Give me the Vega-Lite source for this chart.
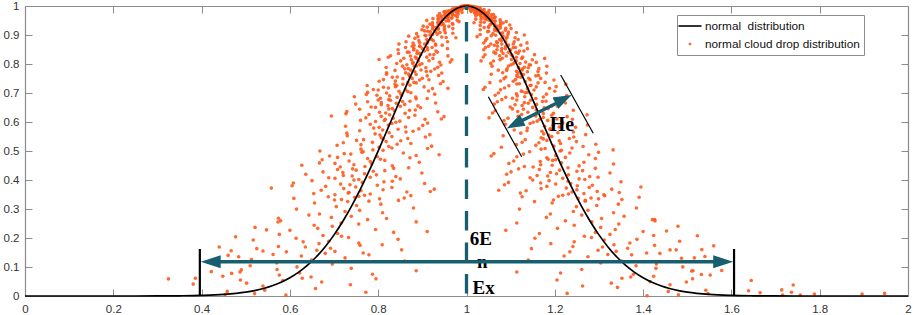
{
  "$schema": "https://vega.github.io/schema/vega-lite/v6.json",
  "width": 883,
  "height": 290,
  "autosize": "none",
  "padding": {"left": 25, "top": 6, "right": 5, "bottom": 19},
  "background": "white",
  "config": {
    "view": {"stroke": null},
    "axis": {"grid": false, "domainColor": "#8c8c8c", "domainWidth": 1.2, "tickColor": "#8c8c8c", "tickSize": -7, "tickWidth": 1, "labelFont": "Liberation Sans", "labelFontSize": 11.5, "labelColor": "#333333", "title": null}
  },
  "datasets": {
    "drops": [
      {"x":0.999,"y":1.0},{"x":1.001,"y":1.0},{"x":0.999,"y":0.9999},{"x":1.002,"y":0.9999},{"x":0.996,"y":0.9998},{"x":1.003,"y":0.9998},{"x":0.996,"y":0.9997},{"x":1.002,"y":0.9997},{"x":0.993,"y":0.9995},{"x":1.004,"y":0.9995},
      {"x":0.989,"y":0.9992},{"x":1.007,"y":0.9992},{"x":0.995,"y":0.9989},{"x":1.009,"y":0.9989},{"x":0.997,"y":0.9986},{"x":1.012,"y":0.9986},{"x":0.99,"y":0.9982},{"x":1.006,"y":0.9982},{"x":0.988,"y":0.9978},{"x":1.016,"y":0.9978},
      {"x":0.989,"y":0.9973},{"x":1.012,"y":0.9973},{"x":0.993,"y":0.9967},{"x":1.017,"y":0.9967},{"x":0.985,"y":0.9961},{"x":1.023,"y":0.9961},{"x":0.987,"y":0.9955},{"x":1.019,"y":0.9955},{"x":0.99,"y":0.9948},{"x":1.018,"y":0.9948},
      {"x":0.975,"y":0.9941},{"x":1.014,"y":0.9941},{"x":0.981,"y":0.9933},{"x":1.022,"y":0.9933},{"x":0.991,"y":0.9925},{"x":1.031,"y":0.9925},{"x":0.98,"y":0.9916},{"x":1.023,"y":0.9916},{"x":0.984,"y":0.9907},{"x":1.029,"y":0.9907},
      {"x":0.968,"y":0.9897},{"x":1.023,"y":0.9897},{"x":0.972,"y":0.9887},{"x":1.017,"y":0.9887},{"x":0.979,"y":0.9876},{"x":1.04,"y":0.9876},{"x":0.989,"y":0.9865},{"x":1.028,"y":0.9865},{"x":0.975,"y":0.9853},{"x":1.035,"y":0.9853},
      {"x":0.967,"y":0.9841},{"x":1.051,"y":0.9841},{"x":0.963,"y":0.9828},{"x":1.022,"y":0.9828},{"x":0.955,"y":0.9815},{"x":1.01,"y":0.9815},{"x":0.981,"y":0.9802},{"x":1.034,"y":0.9802},{"x":0.95,"y":0.9788},{"x":1.039,"y":0.9788},
      {"x":0.966,"y":0.9774},{"x":1.032,"y":0.9774},{"x":0.953,"y":0.9759},{"x":1.019,"y":0.9759},{"x":0.939,"y":0.9743},{"x":1.04,"y":0.9743},{"x":0.953,"y":0.9728},{"x":1.031,"y":0.9728},{"x":0.956,"y":0.9711},{"x":1.025,"y":0.9711},
      {"x":0.968,"y":0.9695},{"x":1.057,"y":0.9695},{"x":0.95,"y":0.9678},{"x":1.042,"y":0.9678},{"x":0.935,"y":0.966},{"x":1.021,"y":0.966},{"x":0.953,"y":0.9642},{"x":1.042,"y":0.9642},{"x":0.942,"y":0.9624},{"x":1.034,"y":0.9624},
      {"x":0.954,"y":0.9605},{"x":1.064,"y":0.9605},{"x":0.967,"y":0.9585},{"x":1.055,"y":0.9585},{"x":0.924,"y":0.9566},{"x":1.041,"y":0.9566},{"x":0.948,"y":0.9546},{"x":1.021,"y":0.9546},{"x":0.936,"y":0.9525},{"x":1.046,"y":0.9525},
      {"x":0.91,"y":0.9504},{"x":1.058,"y":0.9504},{"x":0.96,"y":0.9482},{"x":1.065,"y":0.9482},{"x":0.983,"y":0.9461},{"x":1.077,"y":0.9461},{"x":0.943,"y":0.9438},{"x":1.032,"y":0.9438},{"x":0.936,"y":0.9416},{"x":1.083,"y":0.9416},
      {"x":0.947,"y":0.9393},{"x":1.057,"y":0.9393},{"x":0.969,"y":0.9369},{"x":1.077,"y":0.9369},{"x":0.936,"y":0.9345},{"x":1.098,"y":0.9345},{"x":0.95,"y":0.9321},{"x":1.076,"y":0.9321},{"x":0.96,"y":0.9296},{"x":1.069,"y":0.9296},
      {"x":0.911,"y":0.9271},{"x":1.05,"y":0.9271},{"x":0.936,"y":0.9246},{"x":1.077,"y":0.9246},{"x":0.969,"y":0.922},{"x":1.101,"y":0.922},{"x":0.936,"y":0.9194},{"x":1.072,"y":0.9194},{"x":0.95,"y":0.9168},{"x":1.088,"y":0.9168},
      {"x":0.905,"y":0.9141},{"x":1.07,"y":0.9141},{"x":0.918,"y":0.9114},{"x":1.048,"y":0.9114},{"x":0.94,"y":0.9086},{"x":1.113,"y":0.9086},{"x":0.969,"y":0.9058},{"x":1.077,"y":0.9058},{"x":0.934,"y":0.903},{"x":1.094,"y":0.903},
      {"x":0.917,"y":0.9001},{"x":1.131,"y":0.9001},{"x":0.908,"y":0.8972},{"x":1.056,"y":0.8972},{"x":0.89,"y":0.8943},{"x":1.024,"y":0.8943},{"x":0.954,"y":0.8914},{"x":1.081,"y":0.8914},{"x":0.883,"y":0.8884},{"x":1.09,"y":0.8884},
      {"x":0.921,"y":0.8843},{"x":1.075,"y":0.8843},{"x":0.892,"y":0.8805},{"x":1.043,"y":0.8805},{"x":0.863,"y":0.8767},{"x":1.089,"y":0.8767},{"x":0.894,"y":0.8729},{"x":1.07,"y":0.8729},{"x":0.905,"y":0.869},{"x":1.055,"y":0.869},
      {"x":0.93,"y":0.865},{"x":1.123,"y":0.865},{"x":0.894,"y":0.8611},{"x":1.089,"y":0.8611},{"x":0.862,"y":0.857},{"x":1.043,"y":0.857},{"x":0.9,"y":0.853},{"x":1.088,"y":0.853},{"x":0.88,"y":0.8488},{"x":1.069,"y":0.8488},
      {"x":0.905,"y":0.8447},{"x":1.13,"y":0.8447},{"x":0.934,"y":0.8405},{"x":1.112,"y":0.8405},{"x":0.846,"y":0.8363},{"x":1.083,"y":0.8363},{"x":0.896,"y":0.832},{"x":1.042,"y":0.832},{"x":0.873,"y":0.8277},{"x":1.09,"y":0.8277},
      {"x":0.823,"y":0.8233},{"x":1.113,"y":0.8233},{"x":0.924,"y":0.819},{"x":1.125,"y":0.819},{"x":0.967,"y":0.8146},{"x":1.149,"y":0.8146},{"x":0.891,"y":0.8101},{"x":1.061,"y":0.8101},{"x":0.879,"y":0.8056},{"x":1.158,"y":0.8056},
      {"x":0.899,"y":0.8011},{"x":1.106,"y":0.8011},{"x":0.942,"y":0.7965},{"x":1.145,"y":0.7965},{"x":0.882,"y":0.792},{"x":1.182,"y":0.792},{"x":0.908,"y":0.7873},{"x":1.14,"y":0.7873},{"x":0.928,"y":0.7827},{"x":1.126,"y":0.7827},
      {"x":0.838,"y":0.778},{"x":1.091,"y":0.778},{"x":0.883,"y":0.7733},{"x":1.138,"y":0.7733},{"x":0.944,"y":0.7686},{"x":1.181,"y":0.7686},{"x":0.886,"y":0.7638},{"x":1.129,"y":0.7638},{"x":0.911,"y":0.7591},{"x":1.157,"y":0.7591},
      {"x":0.832,"y":0.7543},{"x":1.123,"y":0.7543},{"x":0.856,"y":0.7495},{"x":1.085,"y":0.7495},{"x":0.894,"y":0.7446},{"x":1.198,"y":0.7446},{"x":0.947,"y":0.7397},{"x":1.133,"y":0.7397},{"x":0.886,"y":0.7349},{"x":1.162,"y":0.7349},
      {"x":0.856,"y":0.7299},{"x":1.225,"y":0.7299},{"x":0.842,"y":0.725},{"x":1.096,"y":0.725},{"x":0.812,"y":0.72},{"x":1.042,"y":0.72},{"x":0.923,"y":0.7151},{"x":1.138,"y":0.7151},{"x":0.8,"y":0.7101},{"x":1.153,"y":0.7101},
      {"x":0.867,"y":0.7051},{"x":1.126,"y":0.7051},{"x":0.819,"y":0.7},{"x":1.072,"y":0.7},{"x":0.773,"y":0.695},{"x":1.147,"y":0.695},{"x":0.826,"y":0.69},{"x":1.115,"y":0.69},{"x":0.843,"y":0.685},{"x":1.089,"y":0.685},
      {"x":0.886,"y":0.6798},{"x":1.2,"y":0.6798},{"x":0.828,"y":0.6748},{"x":1.145,"y":0.6748},{"x":0.776,"y":0.6697},{"x":1.07,"y":0.6697},{"x":0.841,"y":0.6646},{"x":1.14,"y":0.6646},{"x":0.807,"y":0.6595},{"x":1.11,"y":0.6595},
      {"x":0.85,"y":0.6543},{"x":1.206,"y":0.6543},{"x":0.896,"y":0.6492},{"x":1.176,"y":0.6492},{"x":0.758,"y":0.6441},{"x":1.129,"y":0.6441},{"x":0.837,"y":0.639},{"x":1.065,"y":0.639},{"x":0.803,"y":0.6338},{"x":1.139,"y":0.6338},
      {"x":0.727,"y":0.6287},{"x":1.174,"y":0.6287},{"x":0.883,"y":0.6235},{"x":1.193,"y":0.6235},{"x":0.949,"y":0.6184},{"x":1.228,"y":0.6184},{"x":0.834,"y":0.6132},{"x":1.094,"y":0.6132},
      {"x":0.816,"y":0.6096},{"x":1.24,"y":0.6096},{"x":0.849,"y":0.6029},{"x":1.16,"y":0.6029},{"x":0.912,"y":0.5962},{"x":1.218,"y":0.5962},{"x":0.823,"y":0.5895},{"x":1.274,"y":0.5895},{"x":0.862,"y":0.5829},{"x":1.21,"y":0.5829},
      {"x":0.892,"y":0.5762},{"x":1.19,"y":0.5762},{"x":0.758,"y":0.5696},{"x":1.137,"y":0.5696},{"x":0.825,"y":0.5629},{"x":1.207,"y":0.5629},{"x":0.917,"y":0.5563},{"x":1.27,"y":0.5563},{"x":0.831,"y":0.5497},{"x":1.193,"y":0.5497},
      {"x":0.867,"y":0.5431},{"x":1.233,"y":0.5431},{"x":0.751,"y":0.5365},{"x":1.182,"y":0.5365},{"x":0.787,"y":0.5299},{"x":1.126,"y":0.5299},{"x":0.843,"y":0.5234},{"x":1.293,"y":0.5234},{"x":0.921,"y":0.5168},{"x":1.198,"y":0.5168},
      {"x":0.831,"y":0.5103},{"x":1.239,"y":0.5103},{"x":0.788,"y":0.5038},{"x":1.332,"y":0.5038},{"x":0.766,"y":0.4973},{"x":1.143,"y":0.4973},{"x":0.723,"y":0.4909},{"x":1.062,"y":0.4909},{"x":0.886,"y":0.4844},{"x":1.202,"y":0.4844},
      {"x":0.708,"y":0.478},{"x":1.224,"y":0.478},{"x":0.805,"y":0.4716},{"x":1.185,"y":0.4716},{"x":0.734,"y":0.4653},{"x":1.107,"y":0.4653},{"x":0.667,"y":0.459},{"x":1.215,"y":0.459},{"x":0.745,"y":0.4527},{"x":1.168,"y":0.4527},
      {"x":0.77,"y":0.4464},{"x":1.131,"y":0.4464},{"x":0.835,"y":0.4402},{"x":1.292,"y":0.4402},{"x":0.75,"y":0.434},{"x":1.211,"y":0.434},{"x":0.675,"y":0.4279},{"x":1.101,"y":0.4279},{"x":0.769,"y":0.4218},{"x":1.204,"y":0.4218},
      {"x":0.721,"y":0.4157},{"x":1.16,"y":0.4157},{"x":0.782,"y":0.4097},{"x":1.298,"y":0.4097},{"x":0.85,"y":0.4037},{"x":1.255,"y":0.4037},{"x":0.65,"y":0.3977},{"x":1.187,"y":0.3977},{"x":0.764,"y":0.3918},{"x":1.095,"y":0.3918},
      {"x":0.715,"y":0.3859},{"x":1.202,"y":0.3859},{"x":0.605,"y":0.3801},{"x":1.251,"y":0.3801},{"x":0.831,"y":0.3743},{"x":1.278,"y":0.3743},{"x":0.927,"y":0.3685},{"x":1.329,"y":0.3685},{"x":0.761,"y":0.3628},{"x":1.135,"y":0.3628},
      {"x":0.734,"y":0.3571},{"x":1.346,"y":0.3571},{"x":0.782,"y":0.3516},{"x":1.231,"y":0.3516},{"x":0.874,"y":0.346},{"x":1.313,"y":0.346},{"x":0.747,"y":0.3405},{"x":1.391,"y":0.3405},{"x":0.803,"y":0.335},{"x":1.299,"y":0.335},
      {"x":0.846,"y":0.3296},{"x":1.269,"y":0.3296},{"x":0.656,"y":0.3208},{"x":1.194,"y":0.3208},{"x":0.751,"y":0.3121},{"x":1.295,"y":0.3121},{"x":0.88,"y":0.3036},{"x":1.385,"y":0.3036},{"x":0.758,"y":0.2953},{"x":1.275,"y":0.2953},
      {"x":0.81,"y":0.287},{"x":1.333,"y":0.287},{"x":0.643,"y":0.2789},{"x":1.261,"y":0.2789},{"x":0.694,"y":0.271},{"x":1.181,"y":0.271},{"x":0.776,"y":0.2632},{"x":1.421,"y":0.2632},{"x":0.886,"y":0.2555},{"x":1.284,"y":0.2555},
      {"x":0.756,"y":0.248},{"x":1.345,"y":0.248},{"x":0.696,"y":0.2406},{"x":1.479,"y":0.2406},{"x":0.663,"y":0.2333},{"x":1.206,"y":0.2333},{"x":0.6,"y":0.2263},{"x":1.089,"y":0.2263},{"x":0.835,"y":0.2193},{"x":1.292,"y":0.2193},
      {"x":0.576,"y":0.2125},{"x":1.325,"y":0.2125},{"x":0.717,"y":0.2058},{"x":1.267,"y":0.2058},{"x":0.614,"y":0.1993},{"x":1.155,"y":0.1993},{"x":0.517,"y":0.193},{"x":1.312,"y":0.193},{"x":0.63,"y":0.1867},{"x":1.244,"y":0.1867},
      {"x":0.666,"y":0.1806},{"x":1.191,"y":0.1806},{"x":0.759,"y":0.1747},{"x":1.426,"y":0.1747},{"x":0.635,"y":0.1689},{"x":1.308,"y":0.1689},{"x":0.525,"y":0.1632},{"x":1.147,"y":0.1632},{"x":0.661,"y":0.1577},{"x":1.298,"y":0.1577},
      {"x":0.592,"y":0.1523},{"x":1.234,"y":0.1523},{"x":0.68,"y":0.147},{"x":1.438,"y":0.147},{"x":0.779,"y":0.1419},{"x":1.374,"y":0.1419},
      {"x":0.484,"y":0.1353},{"x":1.275,"y":0.1353},{"x":0.649,"y":0.1243},{"x":1.14,"y":0.1243},{"x":0.57,"y":0.114},{"x":1.304,"y":0.114},{"x":0.51,"y":0.1044},{"x":1.384,"y":0.1044},{"x":0.739,"y":0.0954},{"x":1.429,"y":0.0954},
      {"x":0.886,"y":0.087},{"x":1.513,"y":0.087},{"x":0.622,"y":0.0792},{"x":1.213,"y":0.0792},{"x":0.576,"y":0.072},{"x":1.552,"y":0.072},{"x":0.648,"y":0.0653},{"x":1.372,"y":0.0653},{"x":0.795,"y":0.0592},{"x":1.512,"y":0.0592},
      {"x":0.584,"y":0.0535},{"x":1.645,"y":0.0535},{"x":0.672,"y":0.0483},{"x":1.498,"y":0.0483},
      {"x":0.737,"y":0.0386},{"x":1.461,"y":0.0386},{"x":0.386,"y":0.061},{"x":1.342,"y":0.0297},{"x":0.543,"y":0.0198},{"x":1.542,"y":0.0198},{"x":0.772,"y":0.0129},{"x":1.736,"y":0.0129},{"x":0.52,"y":0.0082},{"x":1.547,"y":0.0082},
      {"x":0.591,"y":0.0031},{"x":1.716,"y":0.0031},
      {"x":1.639,"y":0.018},{"x":1.665,"y":0.011},{"x":1.714,"y":0.021},{"x":1.74,"y":0.038},{"x":1.756,"y":0.003},{"x":1.788,"y":0.007},{"x":1.896,"y":0.007},{"x":1.947,"y":0.009},{"x":0.381,"y":0.041},{"x":0.325,"y":0.059},
      {"x":0.468,"y":0.078},{"x":0.49,"y":0.09},{"x":0.547,"y":0.228},{"x":0.574,"y":0.268},{"x":0.46,"y":0.14},{"x":1.523,"y":0.208},{"x":1.533,"y":0.16},{"x":1.56,"y":0.173},{"x":1.578,"y":0.088},{"x":1.427,"y":0.259},
      {"x":1.461,"y":0.159},{"x":1.487,"y":0.13},
      {"x":0.999,"y":0.996},{"x":1.001,"y":0.996},{"x":0.998,"y":0.9959},{"x":1.001,"y":0.9959},{"x":0.997,"y":0.9958},{"x":1.004,"y":0.9958},{"x":0.998,"y":0.9957},{"x":1.004,"y":0.9957},{"x":0.996,"y":0.9955},{"x":1.007,"y":0.9955},
      {"x":0.993,"y":0.9952},{"x":1.011,"y":0.9952},{"x":0.991,"y":0.9949},{"x":1.005,"y":0.9949},{"x":0.988,"y":0.9946},{"x":1.003,"y":0.9946},{"x":0.994,"y":0.9942},{"x":1.01,"y":0.9942},{"x":0.984,"y":0.9938},{"x":1.012,"y":0.9938},
      {"x":0.988,"y":0.9933},{"x":1.011,"y":0.9933},{"x":0.983,"y":0.9927},{"x":1.007,"y":0.9927},{"x":0.977,"y":0.9921},{"x":1.015,"y":0.9921},{"x":0.981,"y":0.9915},{"x":1.013,"y":0.9915},{"x":0.982,"y":0.9908},{"x":1.01,"y":0.9908},
      {"x":0.986,"y":0.9901},{"x":1.025,"y":0.9901},{"x":0.978,"y":0.9893},{"x":1.019,"y":0.9893},{"x":0.969,"y":0.9885},{"x":1.009,"y":0.9885},{"x":0.977,"y":0.9876},{"x":1.02,"y":0.9876},{"x":0.971,"y":0.9867},{"x":1.016,"y":0.9867},
      {"x":0.977,"y":0.9857},{"x":1.032,"y":0.9857},{"x":0.983,"y":0.9847},{"x":1.028,"y":0.9847},{"x":0.96,"y":0.9836},{"x":1.021,"y":0.9836},{"x":0.972,"y":0.9825},{"x":1.011,"y":0.9825},{"x":0.965,"y":0.9813},{"x":1.025,"y":0.9813},
      {"x":0.949,"y":0.9801},{"x":1.033,"y":0.9801},{"x":0.978,"y":0.9788},{"x":1.037,"y":0.9788},{"x":0.99,"y":0.9775},{"x":1.045,"y":0.9775},{"x":0.966,"y":0.9762},{"x":1.019,"y":0.9762},{"x":0.961,"y":0.9748},{"x":1.05,"y":0.9748},
      {"x":0.968,"y":0.9734},{"x":1.034,"y":0.9734},{"x":0.981,"y":0.9719},{"x":1.047,"y":0.9719},{"x":0.96,"y":0.9703},{"x":1.061,"y":0.9703},{"x":0.969,"y":0.9688},{"x":1.047,"y":0.9688},{"x":0.975,"y":0.9671},{"x":1.044,"y":0.9671},
      {"x":0.943,"y":0.9655},{"x":1.032,"y":0.9655},{"x":0.958,"y":0.9638},{"x":1.05,"y":0.9638},{"x":0.979,"y":0.962},{"x":1.065,"y":0.962},{"x":0.958,"y":0.9602},{"x":1.047,"y":0.9602},{"x":0.966,"y":0.9584},{"x":1.058,"y":0.9584},
      {"x":0.936,"y":0.9565},{"x":1.046,"y":0.9565},{"x":0.945,"y":0.9545},{"x":1.033,"y":0.9545},{"x":0.959,"y":0.9526},{"x":1.076,"y":0.9526},{"x":0.979,"y":0.9506},{"x":1.052,"y":0.9506},{"x":0.954,"y":0.9485},{"x":1.064,"y":0.9485},
      {"x":0.942,"y":0.9464},{"x":1.09,"y":0.9464},{"x":0.935,"y":0.9442},{"x":1.04,"y":0.9442},{"x":0.923,"y":0.9421},{"x":1.017,"y":0.9421},{"x":0.968,"y":0.9398},{"x":1.057,"y":0.9398},{"x":0.917,"y":0.9376},{"x":1.064,"y":0.9376},
      {"x":0.943,"y":0.9353},{"x":1.053,"y":0.9353},{"x":0.923,"y":0.9329},{"x":1.031,"y":0.9329},{"x":0.902,"y":0.9305},{"x":1.064,"y":0.9305},{"x":0.924,"y":0.9281},{"x":1.05,"y":0.9281},{"x":0.931,"y":0.9256},{"x":1.04,"y":0.9256},
      {"x":0.95,"y":0.9231},{"x":1.089,"y":0.9231},{"x":0.923,"y":0.9206},{"x":1.064,"y":0.9206},{"x":0.899,"y":0.918},{"x":1.031,"y":0.918},{"x":0.928,"y":0.9154},{"x":1.064,"y":0.9154},{"x":0.912,"y":0.9128},{"x":1.05,"y":0.9128},
      {"x":0.93,"y":0.9101},{"x":1.095,"y":0.9101},{"x":0.952,"y":0.9074},{"x":1.082,"y":0.9074},{"x":0.887,"y":0.9046},{"x":1.06,"y":0.9046},{"x":0.923,"y":0.9018},{"x":1.031,"y":0.9018},{"x":0.906,"y":0.899},{"x":1.066,"y":0.899},
      {"x":0.869,"y":0.8961},{"x":1.083,"y":0.8961},{"x":0.944,"y":0.8932},{"x":1.092,"y":0.8932},{"x":0.976,"y":0.8903},{"x":1.11,"y":0.8903},{"x":0.919,"y":0.8874},{"x":1.046,"y":0.8874},{"x":0.91,"y":0.8844},{"x":1.117,"y":0.8844},
      {"x":0.925,"y":0.8803},{"x":1.079,"y":0.8803},{"x":0.957,"y":0.8765},{"x":1.108,"y":0.8765},{"x":0.911,"y":0.8727},{"x":1.137,"y":0.8727},{"x":0.93,"y":0.8689},{"x":1.106,"y":0.8689},{"x":0.945,"y":0.865},{"x":1.095,"y":0.865},
      {"x":0.877,"y":0.861},{"x":1.07,"y":0.861},{"x":0.911,"y":0.8571},{"x":1.106,"y":0.8571},{"x":0.957,"y":0.853},{"x":1.138,"y":0.853},{"x":0.912,"y":0.849},{"x":1.1,"y":0.849},{"x":0.931,"y":0.8448},{"x":1.12,"y":0.8448},
      {"x":0.87,"y":0.8407},{"x":1.095,"y":0.8407},{"x":0.888,"y":0.8365},{"x":1.066,"y":0.8365},{"x":0.917,"y":0.8323},{"x":1.154,"y":0.8323},{"x":0.958,"y":0.828},{"x":1.104,"y":0.828},{"x":0.91,"y":0.8237},{"x":1.127,"y":0.8237},
      {"x":0.887,"y":0.8193},{"x":1.177,"y":0.8193},{"x":0.875,"y":0.815},{"x":1.076,"y":0.815},{"x":0.851,"y":0.8106},{"x":1.033,"y":0.8106},{"x":0.939,"y":0.8061},{"x":1.109,"y":0.8061},{"x":0.842,"y":0.8016},{"x":1.121,"y":0.8016},
      {"x":0.894,"y":0.7971},{"x":1.101,"y":0.7971},{"x":0.855,"y":0.7925},{"x":1.058,"y":0.7925},{"x":0.818,"y":0.788},{"x":1.118,"y":0.788},{"x":0.86,"y":0.7833},{"x":1.092,"y":0.7833},{"x":0.874,"y":0.7787},{"x":1.072,"y":0.7787},
      {"x":0.909,"y":0.774},{"x":1.162,"y":0.774},{"x":0.862,"y":0.7693},{"x":1.117,"y":0.7693},{"x":0.819,"y":0.7646},{"x":1.056,"y":0.7646},{"x":0.871,"y":0.7598},{"x":1.114,"y":0.7598},{"x":0.843,"y":0.7551},{"x":1.089,"y":0.7551},
      {"x":0.877,"y":0.7503},{"x":1.168,"y":0.7503},{"x":0.915,"y":0.7455},{"x":1.144,"y":0.7455},{"x":0.802,"y":0.7406},{"x":1.106,"y":0.7406},{"x":0.867,"y":0.7357},{"x":1.053,"y":0.7357},{"x":0.838,"y":0.7309},{"x":1.114,"y":0.7309},
      {"x":0.775,"y":0.7259},{"x":1.144,"y":0.7259},{"x":0.904,"y":0.721},{"x":1.158,"y":0.721},{"x":0.958,"y":0.716},{"x":1.188,"y":0.716},{"x":0.862,"y":0.7111},{"x":1.077,"y":0.7111},{"x":0.847,"y":0.7061},{"x":1.2,"y":0.7061},
      {"x":0.874,"y":0.7011},{"x":1.133,"y":0.7011},{"x":0.928,"y":0.696},{"x":1.181,"y":0.696},{"x":0.853,"y":0.691},{"x":1.227,"y":0.691},{"x":0.885,"y":0.686},{"x":1.174,"y":0.686},{"x":0.911,"y":0.681},{"x":1.157,"y":0.681},
      {"x":0.8,"y":0.6758},{"x":1.114,"y":0.6758},{"x":0.855,"y":0.6708},{"x":1.172,"y":0.6708},{"x":0.93,"y":0.6657},{"x":1.224,"y":0.6657},{"x":0.86,"y":0.6606},{"x":1.159,"y":0.6606},{"x":0.89,"y":0.6555},{"x":1.193,"y":0.6555},
      {"x":0.794,"y":0.6503},{"x":1.15,"y":0.6503},{"x":0.824,"y":0.6452},{"x":1.104,"y":0.6452},{"x":0.871,"y":0.6401},{"x":1.242,"y":0.6401},{"x":0.935,"y":0.635},{"x":1.163,"y":0.635},{"x":0.861,"y":0.6298},{"x":1.197,"y":0.6298},
      {"x":0.826,"y":0.6247},{"x":1.273,"y":0.6247},{"x":0.807,"y":0.6195},{"x":1.117,"y":0.6195},{"x":0.772,"y":0.6144},{"x":1.051,"y":0.6144},{"x":0.906,"y":0.6092},{"x":1.166,"y":0.6092},
      {"x":0.76,"y":0.6056},{"x":1.184,"y":0.6056},{"x":0.84,"y":0.5989},{"x":1.151,"y":0.5989},{"x":0.782,"y":0.5922},{"x":1.088,"y":0.5922},{"x":0.726,"y":0.5855},{"x":1.177,"y":0.5855},{"x":0.79,"y":0.5789},{"x":1.138,"y":0.5789},
      {"x":0.81,"y":0.5722},{"x":1.108,"y":0.5722},{"x":0.863,"y":0.5656},{"x":1.242,"y":0.5656},{"x":0.793,"y":0.5589},{"x":1.175,"y":0.5589},{"x":0.73,"y":0.5523},{"x":1.083,"y":0.5523},{"x":0.807,"y":0.5457},{"x":1.169,"y":0.5457},
      {"x":0.767,"y":0.5391},{"x":1.133,"y":0.5391},{"x":0.818,"y":0.5325},{"x":1.249,"y":0.5325},{"x":0.874,"y":0.5259},{"x":1.213,"y":0.5259},{"x":0.707,"y":0.5194},{"x":1.157,"y":0.5194},{"x":0.802,"y":0.5128},{"x":1.079,"y":0.5128},
      {"x":0.761,"y":0.5063},{"x":1.169,"y":0.5063},{"x":0.668,"y":0.4998},{"x":1.212,"y":0.4998},{"x":0.857,"y":0.4933},{"x":1.234,"y":0.4933},{"x":0.938,"y":0.4869},{"x":1.277,"y":0.4869},{"x":0.798,"y":0.4804},{"x":1.114,"y":0.4804},
      {"x":0.776,"y":0.474},{"x":1.292,"y":0.474},{"x":0.815,"y":0.4676},{"x":1.195,"y":0.4676},{"x":0.893,"y":0.4613},{"x":1.266,"y":0.4613},{"x":0.785,"y":0.455},{"x":1.333,"y":0.455},{"x":0.832,"y":0.4487},{"x":1.255,"y":0.4487},
      {"x":0.869,"y":0.4424},{"x":1.23,"y":0.4424},{"x":0.708,"y":0.4362},{"x":1.165,"y":0.4362},{"x":0.789,"y":0.43},{"x":1.25,"y":0.43},{"x":0.899,"y":0.4239},{"x":1.325,"y":0.4239},{"x":0.796,"y":0.4178},{"x":1.231,"y":0.4178},
      {"x":0.84,"y":0.4117},{"x":1.279,"y":0.4117},{"x":0.702,"y":0.4057},{"x":1.218,"y":0.4057},{"x":0.745,"y":0.3997},{"x":1.15,"y":0.3997},{"x":0.813,"y":0.3937},{"x":1.35,"y":0.3937},{"x":0.905,"y":0.3878},{"x":1.236,"y":0.3878},
      {"x":0.798,"y":0.3819},{"x":1.285,"y":0.3819},{"x":0.749,"y":0.3761},{"x":1.395,"y":0.3761},{"x":0.722,"y":0.3703},{"x":1.169,"y":0.3703},{"x":0.671,"y":0.3645},{"x":1.073,"y":0.3645},{"x":0.865,"y":0.3588},{"x":1.239,"y":0.3588},
      {"x":0.654,"y":0.3531},{"x":1.266,"y":0.3531},{"x":0.769,"y":0.3476},{"x":1.218,"y":0.3476},{"x":0.687,"y":0.342},{"x":1.126,"y":0.342},{"x":0.609,"y":0.3365},{"x":1.253,"y":0.3365},{"x":0.701,"y":0.331},{"x":1.197,"y":0.331},
      {"x":0.731,"y":0.3256},{"x":1.154,"y":0.3256},{"x":0.806,"y":0.3168},{"x":1.344,"y":0.3168},{"x":0.705,"y":0.3081},{"x":1.249,"y":0.3081},{"x":0.615,"y":0.2996},{"x":1.12,"y":0.2996},{"x":0.725,"y":0.2913},{"x":1.242,"y":0.2913},
      {"x":0.667,"y":0.283},{"x":1.19,"y":0.283},{"x":0.739,"y":0.2749},{"x":1.357,"y":0.2749},{"x":0.819,"y":0.267},{"x":1.306,"y":0.267},{"x":0.579,"y":0.2592},{"x":1.224,"y":0.2592},{"x":0.716,"y":0.2515},{"x":1.114,"y":0.2515},
      {"x":0.655,"y":0.244},{"x":1.244,"y":0.244},{"x":0.521,"y":0.2366},{"x":1.304,"y":0.2366},{"x":0.794,"y":0.2293},{"x":1.337,"y":0.2293},{"x":0.911,"y":0.2223},{"x":1.4,"y":0.2223},{"x":0.708,"y":0.2153},{"x":1.165,"y":0.2153},
      {"x":0.675,"y":0.2085},{"x":1.424,"y":0.2085},{"x":0.733,"y":0.2018},{"x":1.283,"y":0.2018},{"x":0.845,"y":0.1953},{"x":1.386,"y":0.1953},{"x":0.688,"y":0.189},{"x":1.483,"y":0.189},{"x":0.756,"y":0.1827},{"x":1.37,"y":0.1827},
      {"x":0.809,"y":0.1766},{"x":1.334,"y":0.1766},{"x":0.574,"y":0.1707},{"x":1.241,"y":0.1707},{"x":0.692,"y":0.1649},{"x":1.365,"y":0.1649},{"x":0.853,"y":0.1592},{"x":1.475,"y":0.1592},{"x":0.702,"y":0.1537},{"x":1.339,"y":0.1537},
      {"x":0.766,"y":0.1483},{"x":1.408,"y":0.1483},{"x":0.562,"y":0.143},{"x":1.32,"y":0.143},{"x":0.626,"y":0.1379},{"x":1.221,"y":0.1379},
      {"x":0.725,"y":0.1313},{"x":1.516,"y":0.1313},{"x":0.86,"y":0.1203},{"x":1.351,"y":0.1203},{"x":0.696,"y":0.11},{"x":1.43,"y":0.11},{"x":0.616,"y":0.1004},{"x":1.49,"y":0.1004},{"x":0.571,"y":0.0914},{"x":1.261,"y":0.0914},
      {"x":0.487,"y":0.083},{"x":1.114,"y":0.083},{"x":0.787,"y":0.0752},{"x":1.378,"y":0.0752},{"x":0.448,"y":0.068},{"x":1.424,"y":0.068},{"x":0.628,"y":0.0613},{"x":1.352,"y":0.0613},{"x":0.488,"y":0.0552},{"x":1.205,"y":0.0552},
      {"x":1.416,"y":0.0495},{"x":0.502,"y":0.0443},{"x":1.328,"y":0.0443},{"x":0.539,"y":0.0346},{"x":1.263,"y":0.0346},{"x":0.658,"y":0.0257},{"x":0.458,"y":0.0158},{"x":1.457,"y":0.0158},{"x":1.228,"y":0.0089},{"x":0.453,"y":0.0042},
      {"x":1.48,"y":0.0042},{"x":1.409,"y":0.001},
      {"x":0.477,"y":0.204},{"x":0.467,"y":0.156},{"x":0.44,"y":0.169},{"x":0.422,"y":0.084},{"x":0.573,"y":0.255},{"x":0.539,"y":0.155},{"x":0.513,"y":0.126},{"x":1.532,"y":0.074},{"x":1.51,"y":0.086},{"x":1.453,"y":0.224},
      {"x":1.426,"y":0.264},{"x":1.54,"y":0.136},
      {"x":0.912,"y":0.8763},{"x":1.068,"y":0.8763},{"x":0.879,"y":0.8725},{"x":1.039,"y":0.8725},{"x":0.847,"y":0.8687},{"x":1.08,"y":0.8687},{"x":0.881,"y":0.8649},{"x":1.063,"y":0.8649},{"x":0.894,"y":0.861},{"x":1.05,"y":0.861},
      {"x":0.922,"y":0.857},{"x":1.111,"y":0.857},{"x":0.881,"y":0.8531},{"x":1.08,"y":0.8531},{"x":0.845,"y":0.849},{"x":1.039,"y":0.849},{"x":0.888,"y":0.845},{"x":1.079,"y":0.845},{"x":0.866,"y":0.8408},{"x":1.062,"y":0.8408},
      {"x":0.894,"y":0.8367},{"x":1.117,"y":0.8367},{"x":0.926,"y":0.8325},{"x":1.101,"y":0.8325},{"x":0.828,"y":0.8283},{"x":1.075,"y":0.8283},{"x":0.884,"y":0.824},{"x":1.038,"y":0.824},{"x":0.858,"y":0.8197},{"x":1.081,"y":0.8197},
      {"x":0.802,"y":0.8153},{"x":1.102,"y":0.8153},{"x":0.915,"y":0.811},{"x":1.113,"y":0.811},{"x":0.963,"y":0.8066},{"x":1.134,"y":0.8066},{"x":0.878,"y":0.8021},{"x":1.055,"y":0.8021},{"x":0.865,"y":0.7976},{"x":1.142,"y":0.7976},
      {"x":0.887,"y":0.7931},{"x":1.095,"y":0.7931},{"x":0.935,"y":0.7885},{"x":1.131,"y":0.7885},{"x":0.868,"y":0.784},{"x":1.164,"y":0.784},{"x":0.897,"y":0.7793},{"x":1.126,"y":0.7793},{"x":0.919,"y":0.7747},{"x":1.113,"y":0.7747},
      {"x":0.819,"y":0.77},{"x":1.082,"y":0.77},{"x":0.869,"y":0.7653},{"x":1.124,"y":0.7653},{"x":0.937,"y":0.7606},{"x":1.163,"y":0.7606},{"x":0.872,"y":0.7558},{"x":1.116,"y":0.7558},{"x":0.9,"y":0.7511},{"x":1.141,"y":0.7511},
      {"x":0.812,"y":0.7463},{"x":1.111,"y":0.7463},{"x":0.839,"y":0.7415},{"x":1.077,"y":0.7415},{"x":0.881,"y":0.7366},{"x":1.178,"y":0.7366},{"x":0.941,"y":0.7317},{"x":1.12,"y":0.7317},{"x":0.872,"y":0.7269},{"x":1.146,"y":0.7269},
      {"x":0.839,"y":0.7219},{"x":1.203,"y":0.7219},{"x":0.823,"y":0.717},{"x":1.086,"y":0.717},{"x":0.789,"y":0.712},{"x":1.038,"y":0.712},{"x":0.914,"y":0.7071},{"x":1.124,"y":0.7071},{"x":0.776,"y":0.7021},{"x":1.138,"y":0.7021},
      {"x":0.851,"y":0.6971},{"x":1.113,"y":0.6971},{"x":0.797,"y":0.692},{"x":1.065,"y":0.692},{"x":0.746,"y":0.687},{"x":1.132,"y":0.687},{"x":0.805,"y":0.682},{"x":1.104,"y":0.682},{"x":0.824,"y":0.677},{"x":1.08,"y":0.677},
      {"x":0.872,"y":0.6718},{"x":1.18,"y":0.6718},{"x":0.807,"y":0.6668},{"x":1.131,"y":0.6668},{"x":0.749,"y":0.6617},{"x":1.063,"y":0.6617},{"x":0.822,"y":0.6566},{"x":1.126,"y":0.6566},{"x":0.784,"y":0.6515},{"x":1.099,"y":0.6515},
      {"x":0.832,"y":0.6463},{"x":1.185,"y":0.6463},{"x":0.884,"y":0.6412},{"x":1.158,"y":0.6412},{"x":0.729,"y":0.6361},{"x":1.116,"y":0.6361},{"x":0.817,"y":0.631},{"x":1.059,"y":0.631},{"x":0.779,"y":0.6258},{"x":1.125,"y":0.6258},
      {"x":0.694,"y":0.6207},{"x":1.157,"y":0.6207},{"x":0.869,"y":0.6155},{"x":1.174,"y":0.6155},{"x":0.943,"y":0.6104},{"x":1.205,"y":0.6104},{"x":0.814,"y":0.6052},{"x":1.085,"y":0.6052},
      {"x":0.794,"y":0.6016},{"x":1.216,"y":0.6016},{"x":0.831,"y":0.5949},{"x":1.144,"y":0.5949},{"x":0.901,"y":0.5882},{"x":1.196,"y":0.5882},{"x":0.802,"y":0.5815},{"x":1.247,"y":0.5815},{"x":0.845,"y":0.5749},{"x":1.189,"y":0.5749},
      {"x":0.879,"y":0.5682},{"x":1.171,"y":0.5682},{"x":0.729,"y":0.5616},{"x":1.123,"y":0.5616},{"x":0.804,"y":0.5549},{"x":1.186,"y":0.5549},{"x":0.907,"y":0.5483},{"x":1.243,"y":0.5483},{"x":0.811,"y":0.5417},{"x":1.174,"y":0.5417},
      {"x":0.851,"y":0.5351},{"x":1.21,"y":0.5351},{"x":0.721,"y":0.5285},{"x":1.164,"y":0.5285},{"x":0.761,"y":0.5219},{"x":1.113,"y":0.5219},{"x":0.824,"y":0.5154},{"x":1.264,"y":0.5154},{"x":0.912,"y":0.5088},{"x":1.178,"y":0.5088},
      {"x":0.811,"y":0.5023},{"x":1.215,"y":0.5023},{"x":0.763,"y":0.4958},{"x":1.299,"y":0.4958},{"x":0.738,"y":0.4893},{"x":1.129,"y":0.4893},{"x":0.69,"y":0.4829},{"x":1.056,"y":0.4829},{"x":0.872,"y":0.4764},{"x":1.182,"y":0.4764},
      {"x":0.673,"y":0.47},{"x":1.202,"y":0.47},{"x":0.782,"y":0.4636},{"x":1.167,"y":0.4636},{"x":0.702,"y":0.4573},{"x":1.096,"y":0.4573},{"x":0.627,"y":0.451},{"x":1.194,"y":0.451},{"x":0.714,"y":0.4447},{"x":1.151,"y":0.4447},
      {"x":0.742,"y":0.4384},{"x":1.118,"y":0.4384},{"x":0.815,"y":0.4322},{"x":1.263,"y":0.4322},{"x":0.72,"y":0.426},{"x":1.19,"y":0.426},{"x":0.636,"y":0.4199},{"x":1.091,"y":0.4199},{"x":0.741,"y":0.4138},{"x":1.184,"y":0.4138},
      {"x":0.688,"y":0.4077},{"x":1.144,"y":0.4077},{"x":0.756,"y":0.4017},{"x":1.268,"y":0.4017},{"x":0.832,"y":0.3957},{"x":1.23,"y":0.3957},{"x":0.608,"y":0.3897},{"x":1.168,"y":0.3897},{"x":0.736,"y":0.3838},{"x":1.086,"y":0.3838},
      {"x":0.681,"y":0.3779},{"x":1.182,"y":0.3779},{"x":0.558,"y":0.3721},{"x":1.226,"y":0.3721},{"x":0.811,"y":0.3663},{"x":1.25,"y":0.3663},{"x":0.918,"y":0.3605},{"x":1.296,"y":0.3605},{"x":0.732,"y":0.3548},{"x":1.122,"y":0.3548},
      {"x":0.702,"y":0.3491},{"x":1.311,"y":0.3491},{"x":0.756,"y":0.3436},{"x":1.208,"y":0.3436},{"x":0.859,"y":0.338},{"x":1.282,"y":0.338},{"x":0.717,"y":0.3325},{"x":1.352,"y":0.3325},{"x":0.779,"y":0.327},{"x":1.269,"y":0.327}
    ],
    "curve": [
      {"x":0,"y":0},{"x":0.1,"y":0},{"x":0.2,"y":0},{"x":0.3,"y":0.0002},{"x":0.35,"y":0.0007},{"x":0.4,"y":0.002},{"x":0.45,"y":0.0053},{"x":0.5,"y":0.0132},{"x":0.52,"y":0.0186},{"x":0.54,"y":0.0257},
      {"x":0.56,"y":0.0351},{"x":0.58,"y":0.0473},{"x":0.6,"y":0.0628},{"x":0.62,"y":0.0822},{"x":0.64,"y":0.1062},{"x":0.66,"y":0.1353},{"x":0.68,"y":0.1701},{"x":0.7,"y":0.2108},{"x":0.72,"y":0.2576},{"x":0.74,"y":0.3105},
      {"x":0.76,"y":0.3692},{"x":0.78,"y":0.4329},{"x":0.8,"y":0.5006},{"x":0.82,"y":0.5709},{"x":0.84,"y":0.6422},{"x":0.86,"y":0.7124},{"x":0.88,"y":0.7795},{"x":0.9,"y":0.8411},{"x":0.92,"y":0.8952},{"x":0.94,"y":0.9396},
      {"x":0.96,"y":0.9727},{"x":0.98,"y":0.9931},{"x":1.0,"y":1.0},{"x":1.02,"y":0.9931},{"x":1.04,"y":0.9727},{"x":1.06,"y":0.9396},{"x":1.08,"y":0.8952},{"x":1.1,"y":0.8411},{"x":1.12,"y":0.7795},{"x":1.14,"y":0.7124},
      {"x":1.16,"y":0.6422},{"x":1.18,"y":0.5709},{"x":1.2,"y":0.5006},{"x":1.22,"y":0.4329},{"x":1.24,"y":0.3692},{"x":1.26,"y":0.3105},{"x":1.28,"y":0.2576},{"x":1.3,"y":0.2108},{"x":1.32,"y":0.1701},{"x":1.34,"y":0.1353},
      {"x":1.36,"y":0.1062},{"x":1.38,"y":0.0822},{"x":1.4,"y":0.0628},{"x":1.42,"y":0.0473},{"x":1.44,"y":0.0351},{"x":1.46,"y":0.0257},{"x":1.48,"y":0.0186},{"x":1.5,"y":0.0132},{"x":1.55,"y":0.0053},{"x":1.6,"y":0.002},
      {"x":1.65,"y":0.0007},{"x":1.7,"y":0.0002},{"x":1.8,"y":0},{"x":1.9,"y":0},{"x":2.0,"y":0}
    ]
  },
  "layer": [
    {
      "data": {"name": "drops"},
      "mark": {"type": "circle", "size": 13, "opacity": 0.9, "color": "#ff5a1e"},
      "encoding": {
        "x": {"field": "x", "type": "quantitative", "scale": {"domain": [0, 2], "nice": false, "zero": false}, "title": null,
              "axis": {"orient": "bottom", "values": [0, 0.2, 0.4, 0.6, 0.8, 1, 1.2, 1.4, 1.6, 1.8, 2], "format": "~g", "labelPadding": 14, "labelFlush": false}},
        "y": {"field": "y", "type": "quantitative", "scale": {"domain": [0, 1], "nice": false}, "title": null,
              "axis": {"orient": "left", "values": [0, 0.1, 0.2, 0.3, 0.4, 0.5, 0.6, 0.7, 0.8, 0.9, 1], "format": "~g", "labelPadding": 13, "labelFlush": false}}
      }
    },
    {
      "data": {"name": "curve"},
      "mark": {"type": "line", "strokeWidth": 1.7, "interpolate": "monotone", "color": "#000000"},
      "encoding": {
        "x": {"field": "x", "type": "quantitative", "scale": {"domain": [0, 2], "nice": false, "zero": false}, "title": null,
              "axis": {"orient": "top", "values": [0, 0.2, 0.4, 0.6, 0.8, 1, 1.2, 1.4, 1.6, 1.8, 2], "labels": false}},
        "y": {"field": "y", "type": "quantitative", "scale": {"domain": [0, 1], "nice": false}, "title": null,
              "axis": {"orient": "right", "values": [0, 0.1, 0.2, 0.3, 0.4, 0.5, 0.6, 0.7, 0.8, 0.9, 1], "labels": false}}
      }
    },
    {
      "data": {"values": [{"s": "normal\u00a0 distribution"}, {"s": "normal cloud drop distribution"}]},
      "mark": {"type": "point", "filled": false, "opacity": 0, "strokeWidth": 1.6},
      "encoding": {
        "color": {"field": "s", "type": "nominal",
                  "scale": {"domain": ["normal\u00a0 distribution", "normal cloud drop distribution"], "range": ["#000000", "#ff5a1e"]},
                  "legend": {"title": null, "orient": "none", "legendX": 652, "legendY": 9, "strokeColor": "#8c8c8c", "fillColor": "white", "padding": 4,
                             "labelFont": "Liberation Sans", "labelFontSize": 11.8, "labelColor": "#111111", "symbolSize": 132, "symbolStrokeWidth": 1.6, "symbolOpacity": 1,
                             "symbolOffset": 2, "labelOffset": 8, "rowPadding": 4}},
        "shape": {"field": "s", "type": "nominal",
                  "scale": {"domain": ["normal\u00a0 distribution", "normal cloud drop distribution"], "range": ["M-2,0L2,0", "M-0.1,0a0.1,0.1 0 1,0 0.2,0a0.1,0.1 0 1,0 -0.2,0"]},
                  "legend": {"title": null, "orient": "none", "legendX": 652, "legendY": 9, "strokeColor": "#8c8c8c", "fillColor": "white", "padding": 4,
                             "labelFont": "Liberation Sans", "labelFontSize": 11.8, "labelColor": "#111111", "symbolSize": 132, "symbolStrokeWidth": 1.6, "symbolOpacity": 1,
                             "symbolOffset": 2, "labelOffset": 8, "rowPadding": 4}}
      }
    },
    {
      "data": {"values": [{"x": 1.0494, "y": 0.687, "x2": 1.125, "y2": 0.48}, {"x": 1.2134, "y": 0.762, "x2": 1.287, "y2": 0.561}]},
      "mark": {"type": "rule", "color": "#000000", "strokeWidth": 1.2},
      "encoding": {
        "x": {"field": "x", "type": "quantitative", "axis": null}, "y": {"field": "y", "type": "quantitative", "axis": null},
        "x2": {"field": "x2"}, "y2": {"field": "y2"}
      }
    },
    {
      "data": {"values": [{"x": 0.396, "y": 0, "y2": 0.162}, {"x": 1.606, "y": 0, "y2": 0.162}]},
      "mark": {"type": "rule", "color": "#000000", "strokeWidth": 2.2},
      "encoding": {
        "x": {"field": "x", "type": "quantitative", "axis": null}, "y": {"field": "y", "type": "quantitative", "axis": null},
        "y2": {"field": "y2"}
      }
    },
    {
      "data": {"values": [{"x": 1, "y": 1, "y2": 0}]},
      "mark": {"type": "rule", "color": "#175e6e", "strokeWidth": 3.3, "strokeDash": [19.5, 12], "strokeDashOffset": 15.5},
      "encoding": {
        "x": {"field": "x", "type": "quantitative", "axis": null}, "y": {"field": "y", "type": "quantitative", "axis": null},
        "y2": {"field": "y2"}
      }
    },
    {
      "data": {"values": [{"x": 1.0075, "y": 0.176, "t": "6E"}, {"x": 1.024, "y": 0.095, "t": "n"}, {"x": 1.0136, "y": 0.007, "t": "Ex"}]},
      "mark": {"type": "text", "font": "Liberation Serif", "fontWeight": "bold", "fontSize": 19, "align": "left", "baseline": "alphabetic", "color": "#000000"},
      "encoding": {
        "x": {"field": "x", "type": "quantitative", "axis": null}, "y": {"field": "y", "type": "quantitative", "axis": null},
        "text": {"field": "t"}
      }
    },
    {
      "data": {"values": [{"x": 1.1887, "y": 0.57, "t": "He"}]},
      "mark": {"type": "text", "font": "Liberation Serif", "fontWeight": "bold", "fontSize": 20, "align": "left", "baseline": "alphabetic", "color": "#000000"},
      "encoding": {
        "x": {"field": "x", "type": "quantitative", "axis": null}, "y": {"field": "y", "type": "quantitative", "axis": null},
        "text": {"field": "t"}
      }
    },
    {
      "data": {"values": [{"x": 0.412, "y": 0.118, "x2": 1.59, "y2": 0.118}, {"x": 1.105, "y": 0.589, "x2": 1.2237, "y2": 0.68}]},
      "mark": {"type": "rule", "color": "#175e6e", "strokeWidth": 3.4},
      "encoding": {
        "x": {"field": "x", "type": "quantitative", "axis": null}, "y": {"field": "y", "type": "quantitative", "axis": null},
        "x2": {"field": "x2"}, "y2": {"field": "y2"}
      }
    },
    {
      "data": {"values": [{"x": 0.398, "y": 0.118}]},
      "mark": {"type": "point", "shape": "M0,0L2,-0.65L2,0.65Z", "size": 400, "filled": true, "opacity": 1, "color": "#175e6e"},
      "encoding": {"x": {"field": "x", "type": "quantitative", "axis": null}, "y": {"field": "y", "type": "quantitative", "axis": null}}
    },
    {
      "data": {"values": [{"x": 1.604, "y": 0.118}]},
      "mark": {"type": "point", "shape": "M0,0L-2,-0.65L-2,0.65Z", "size": 400, "filled": true, "opacity": 1, "color": "#175e6e"},
      "encoding": {"x": {"field": "x", "type": "quantitative", "axis": null}, "y": {"field": "y", "type": "quantitative", "axis": null}}
    },
    {
      "data": {"values": [{"x": 1.091, "y": 0.578}]},
      "mark": {"type": "point", "shape": "M0,0L2,-0.7L2,0.7Z", "size": 324, "filled": true, "opacity": 1, "color": "#175e6e", "angle": 333},
      "encoding": {"x": {"field": "x", "type": "quantitative", "axis": null}, "y": {"field": "y", "type": "quantitative", "axis": null}}
    },
    {
      "data": {"values": [{"x": 1.238, "y": 0.693}]},
      "mark": {"type": "point", "shape": "M0,0L-2,-0.7L-2,0.7Z", "size": 324, "filled": true, "opacity": 1, "color": "#175e6e", "angle": 333},
      "encoding": {"x": {"field": "x", "type": "quantitative", "axis": null}, "y": {"field": "y", "type": "quantitative", "axis": null}}
    }
  ],
  "resolve": {"axis": {"x": "independent", "y": "independent"}}
}
